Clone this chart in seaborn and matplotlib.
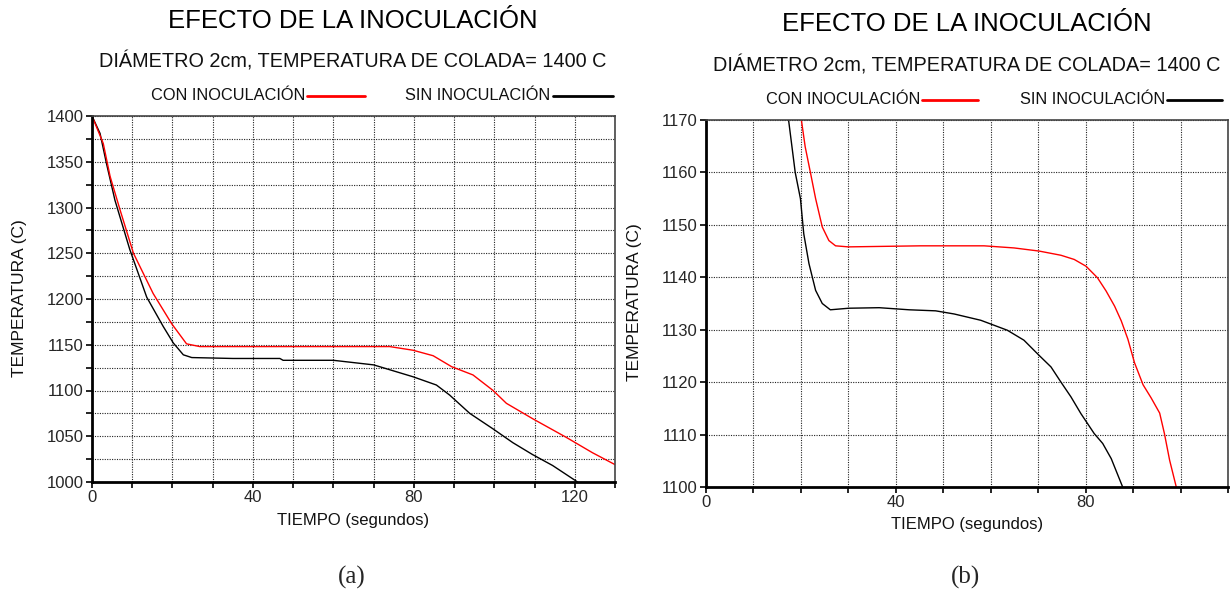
import numpy as np
import pandas as pd
import matplotlib
matplotlib.use("Agg")
import matplotlib.pyplot as plt
from matplotlib.lines import Line2D
from matplotlib.ticker import MultipleLocator, FuncFormatter
import seaborn as sns

# ---- cooling curves, panel (a): full range ----
a_con_t = [0, 2.8, 4.5, 7, 10.3, 15.2, 19.8, 23.5, 26.8, 40, 60, 74, 79.8, 84.8,
           89.4, 94.7, 99.7, 103, 109.6, 117.8, 124.4, 130]
a_con_T = [1400, 1370, 1334, 1297, 1250, 1206, 1173, 1151, 1148, 1148, 1148, 1148, 1144, 1138,
           1126, 1117, 1100, 1086, 1069, 1049, 1032, 1019]

a_sin_t = [0, 2, 3.6, 5.7, 9.4, 13.6, 17.7, 20.2, 22.7, 24.8, 35, 46.7, 47.5, 60, 70,
           79.8, 85.6, 88.9, 93.9, 99.7, 104.6, 109.5, 114.5, 120.7]
a_sin_T = [1400, 1381, 1348, 1308, 1254, 1202, 1170, 1152, 1139, 1136, 1135, 1135, 1133, 1133, 1128,
           1115, 1106, 1095, 1075, 1058, 1043, 1030, 1018, 1000]

# ---- cooling curves, panel (b): zoom on the eutectic plateau ----
b_con_t = [20.1, 20.9, 22.0, 23.1, 24.5, 25.9, 27.3, 30, 45.2, 58.6, 64.9, 70.2, 74.8, 77.6,
           80.1, 82.5, 84.3, 86.1, 87.5, 88.9, 90.3, 92.1, 93.8, 95.6, 96.6, 97.7, 99.1]
b_con_T = [1170, 1164.9, 1160, 1155, 1149.6, 1147, 1146, 1145.8, 1146, 1146, 1145.6, 1145, 1144.2, 1143.4,
           1142.1, 1139.9, 1137.4, 1134.5, 1131.7, 1128.2, 1123.7, 1119.5, 1117, 1114.1, 1110.2, 1105.1, 1100]

b_sin_t = [17.4, 18.8, 19.9, 20.6, 21.7, 23.1, 24.5, 26.2, 30.1, 36.5, 42.8, 48.4, 52.3, 57.9,
           63.5, 67, 70.2, 72.7, 74.8, 76.9, 79, 80.4, 81.8, 83.6, 85.4, 87.8]
b_sin_T = [1170, 1160, 1155, 1148.3, 1142.6, 1137.5, 1135, 1133.8, 1134.1, 1134.2, 1133.8, 1133.6, 1133, 1131.8,
           1129.9, 1128, 1125.1, 1122.9, 1120, 1117.2, 1114, 1112.1, 1110.2, 1108.3, 1105.4, 1100]

TITLE = "EFECTO DE LA INOCULACIÓN"
SUBTITLE = "DIÁMETRO 2cm, TEMPERATURA DE COLADA= 1400 C"
LBL_CON = "CON INOCULACIÓN"
LBL_SIN = "SIN INOCULACIÓN"
XLABEL = "TIEMPO (segundos)"
YLABEL = "TEMPERATURA (C)"

sns.set_theme(style="white")
plt.rcParams["font.family"] = ["Liberation Sans", "DejaVu Sans"]

W, H = 1231, 594
fig = plt.figure(figsize=(W / 100, H / 100), dpi=100)
fig.patch.set_facecolor("white")


def px_axes(x0, y0, x1, y1):
    return fig.add_axes([x0 / W, 1 - y1 / H, (x1 - x0) / W, (y1 - y0) / H])


def fx(x):
    return x / W


def fy(y):
    return 1 - y / H


def style_axes(ax, xlim, ylim, ystep, ylabel_every):
    ax.set_xlim(*xlim)
    ax.set_ylim(*ylim)
    ax.xaxis.set_major_locator(MultipleLocator(10))
    ax.yaxis.set_major_locator(MultipleLocator(ystep))
    ax.xaxis.set_major_formatter(FuncFormatter(lambda v, p: f"{v:.0f}" if round(v) % 40 == 0 else ""))
    ax.yaxis.set_major_formatter(FuncFormatter(lambda v, p: f"{v:.0f}" if round(v) % ylabel_every == 0 else ""))
    ax.grid(True, color="#222222", linestyle=(0, (1, 1.2)), linewidth=0.8)
    ax.tick_params(axis="both", which="major", direction="out", length=4, width=1.2,
                   color="black", labelsize=12, pad=2, left=True, bottom=True)
    for s in ("left", "bottom"):
        ax.spines[s].set_color("black")
        ax.spines[s].set_linewidth(2)
    for s in ("top", "right"):
        ax.spines[s].set_color("#444444")
        ax.spines[s].set_linewidth(1.2)
    ax.set_xlabel("")
    ax.set_ylabel("")
    ax.set_facecolor("white")


def draw_panel(ax, con_t, con_T, sin_t, sin_T):
    con = pd.DataFrame({"t": con_t, "T": con_T})
    sin = pd.DataFrame({"t": sin_t, "T": sin_T})
    sns.lineplot(data=sin, x="t", y="T", ax=ax, color="black", linewidth=1.0,
                 sort=False, estimator=None)
    sns.lineplot(data=con, x="t", y="T", ax=ax, color="#ff0000", linewidth=1.0,
                 sort=False, estimator=None)


def headers(cx, y_title, y_sub, y_leg, con_end, con_line, sin_end, sin_line):
    fig.text(fx(cx), fy(y_title), TITLE, ha="center", va="center", fontsize=18.5, color="black")
    fig.text(fx(cx), fy(y_sub), SUBTITLE, ha="center", va="center", fontsize=14.3, color="#111111")
    fig.text(fx(con_end), fy(y_leg), LBL_CON, ha="right", va="center", fontsize=11.8, color="#111111")
    fig.add_artist(Line2D([fx(con_line[0]), fx(con_line[1])], [fy(y_leg + 1), fy(y_leg + 1)],
                          color="#ff0000", linewidth=2, transform=fig.transFigure))
    fig.text(fx(sin_end), fy(y_leg), LBL_SIN, ha="right", va="center", fontsize=11.8, color="#111111")
    fig.add_artist(Line2D([fx(sin_line[0]), fx(sin_line[1])], [fy(y_leg + 1), fy(y_leg + 1)],
                          color="black", linewidth=2, transform=fig.transFigure))


# panel (a)
ax1 = px_axes(92, 116, 615, 482)
draw_panel(ax1, a_con_t, a_con_T, a_sin_t, a_sin_T)
style_axes(ax1, (0, 130), (1000, 1400), 25, 50)
headers(353, 21, 61, 95, 305, (307, 365), 550, (553, 613))
fig.text(fx(353), fy(520), XLABEL, ha="center", va="center", fontsize=12, color="#111111")
fig.text(fx(20), fy(298), YLABEL, ha="center", va="center", rotation=90, fontsize=12.5, color="#111111")

# panel (b)
ax2 = px_axes(706, 120, 1228, 487)
draw_panel(ax2, b_con_t, b_con_T, b_sin_t, b_sin_T)
style_axes(ax2, (0, 110), (1100, 1170), 10, 10)
headers(967, 24, 66, 99, 920, (922, 978), 1165, (1167, 1222))
fig.text(fx(967), fy(524), XLABEL, ha="center", va="center", fontsize=12, color="#111111")
fig.text(fx(635), fy(302), YLABEL, ha="center", va="center", rotation=90, fontsize=12.5, color="#111111")

# panel captions
fig.text(fx(352), fy(577), "(a)", ha="center", va="center", fontsize=18,
         family=["Liberation Serif", "DejaVu Serif"])
fig.text(fx(965), fy(577), "(b)", ha="center", va="center", fontsize=18,
         family=["Liberation Serif", "DejaVu Serif"])

fig.savefig("out.png", dpi=100, facecolor="white")
